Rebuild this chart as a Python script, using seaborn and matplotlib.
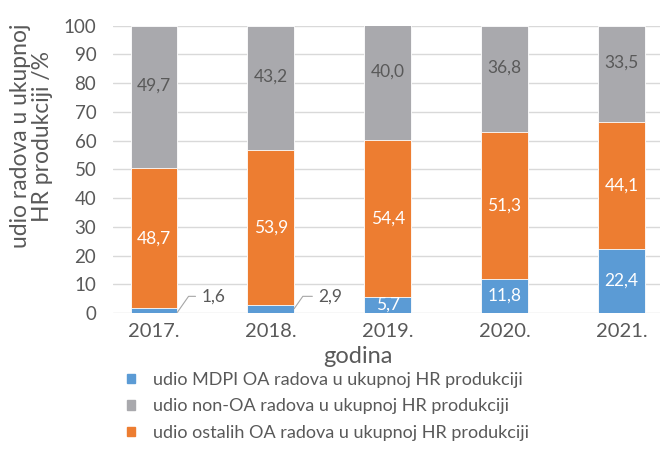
import matplotlib
matplotlib.use("Agg")
import matplotlib.pyplot as plt
from matplotlib.patches import Patch
import seaborn as sns
import pandas as pd

# podaci
godine = ["2017.", "2018.", "2019.", "2020.", "2021."]
mdpi = [1.6, 2.9, 5.7, 11.8, 22.4]
ostali_oa = [48.7, 53.9, 54.4, 51.3, 44.1]
non_oa = [49.7, 43.2, 40.0, 36.8, 33.5]
legenda = ["udio MDPI OA radova u ukupnoj HR produkciji",
           "udio non-OA radova u ukupnoj HR produkciji",
           "udio ostalih OA radova u ukupnoj HR produkciji"]

plava, narancasta, siva = "#5B9BD5", "#ED7D31", "#A9A9AD"
tekst = "#595959"

sns.set_style("white")
plt.rcParams["font.family"] = ["Lato", "DejaVu Sans"]

df = pd.DataFrame({"godina": godine, "mdpi": mdpi, "ostali": ostali_oa, "non": non_oa})
df["do_ostalih"] = df["mdpi"] + df["ostali"]
df["ukupno"] = df["do_ostalih"] + df["non"]

fig = plt.figure(figsize=(6.6, 4.54), dpi=100)
ax = fig.add_axes([113 / 660, 1 - 313 / 454, 1 - 113 / 660, (313 - 25.7) / 454])

# slaganje stupaca: crtamo zbrojeve od najveceg prema najmanjem
sns.barplot(data=df, x="godina", y="ukupno", color=siva, width=0.4, saturation=1,
            edgecolor="white", linewidth=0.6, ax=ax)
sns.barplot(data=df, x="godina", y="do_ostalih", color=narancasta, width=0.4, saturation=1,
            edgecolor="white", linewidth=0.6, ax=ax)
sns.barplot(data=df, x="godina", y="mdpi", color=plava, width=0.4, saturation=1,
            edgecolor="white", linewidth=0.6, ax=ax)

ax.set_ylim(0, 100)
ax.set_xlim(-0.35, 4.33)
ax.set_yticks(range(0, 101, 10))
ax.yaxis.grid(True, color="#D9D9D9", linewidth=1)
ax.set_axisbelow(True)
sns.despine(ax=ax, left=True, bottom=True, right=True, top=True)
ax.tick_params(axis="both", length=0, colors=tekst)
ax.tick_params(axis="y", pad=12, labelsize=13.5)
ax.tick_params(axis="x", pad=7, labelsize=14.5)
ax.set_xlabel("godina", fontsize=17, color=tekst)
ax.xaxis.set_label_coords(0.448, -0.152)
ax.xaxis.label.set_verticalalignment("center")
ax.set_ylabel("")

fig.text(21 / 660, 1 - 136 / 454, "udio radova u ukupnoj", rotation=90,
         ha="center", va="center", fontsize=16.5, color=tekst)
fig.text(43 / 660, 1 - 136 / 454, "HR produkciji /%", rotation=90,
         ha="center", va="center", fontsize=16.5, color=tekst)

def fmt(v):
    return f"{v:.1f}".replace(".", ",")

for i, row in df.iterrows():
    ax.text(i, row["do_ostalih"] + row["non"] / 2 + 4, fmt(row["non"]), ha="center", va="center",
            fontsize=12.5, color=tekst)
    ax.text(i, row["mdpi"] + row["ostali"] / 2, fmt(row["ostali"]), ha="center", va="center",
            fontsize=12.5, color="white")
    if row["mdpi"] < 5:
        ax.annotate(fmt(row["mdpi"]), xy=(i + 0.2, row["mdpi"] - 1.4), xytext=(i + 0.51, 5.8),
                    ha="center", va="center", fontsize=12.5, color=tekst,
                    arrowprops=dict(arrowstyle="-", color="#A6A6A6", lw=0.8,
                                    shrinkA=2, shrinkB=0, relpos=(0, 0.5),
                                    connectionstyle="angle,angleA=0,angleB=55,rad=0"))
    else:
        ax.text(i, row["mdpi"] / 2, fmt(row["mdpi"]), ha="center", va="center",
                fontsize=12.5, color="white")

handles = [Patch(color=plava), Patch(color=siva), Patch(color=narancasta)]
fig.legend(handles, legenda, loc="upper left", bbox_to_anchor=(127 / 660, 1 - 372 / 454),
           frameon=False, fontsize=13, labelcolor=tekst, handlelength=0.44, handleheight=0.44,
           handletextpad=1.0, labelspacing=0.58, borderpad=0, borderaxespad=0)

fig.savefig("out.png", dpi=100)
